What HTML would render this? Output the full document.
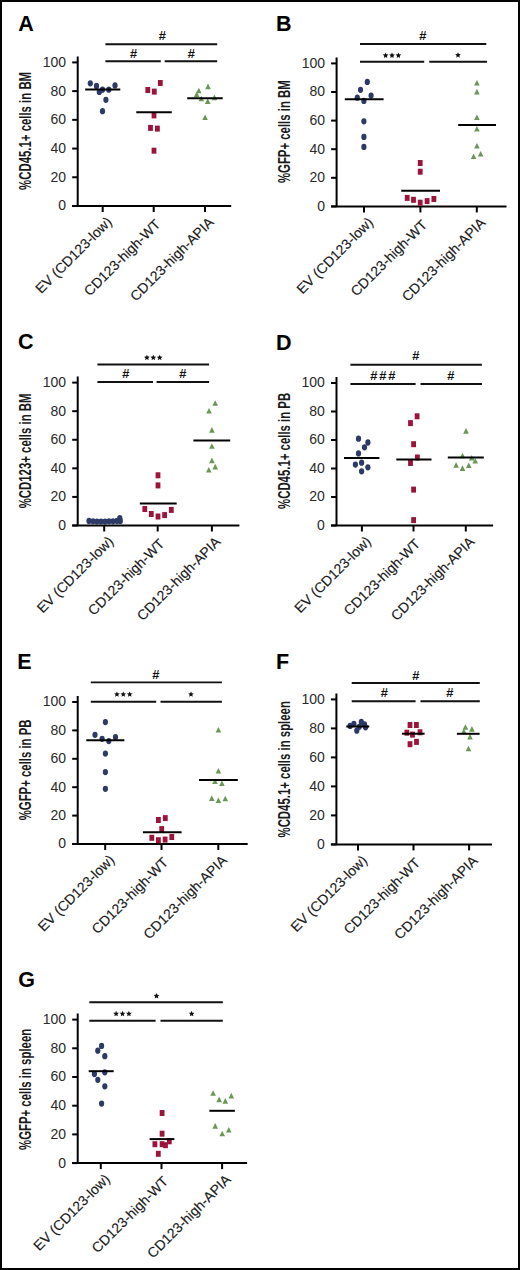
<!DOCTYPE html>
<html><head><meta charset="utf-8"><style>
html,body{margin:0;padding:0;background:#fff}
body{width:520px;height:1270px;overflow:hidden;position:relative}
.frame{position:absolute;left:0;top:0;width:516px;height:1266px;border:2px solid #000;background:#fff}
svg{position:absolute;left:0;top:0}
text{font-family:"Liberation Sans",sans-serif;fill:#1a1a1a}
.L{font-size:21.5px;font-weight:bold;fill:#000}
.t{font-size:14px;fill:#2a2a2a}
.x{font-size:14px;fill:#1a1a1a;stroke:#1a1a1a;stroke-width:0.15px}
.yl{font-size:17.4px;font-weight:bold;fill:#1a1a1a}
.h{font-size:13px;font-weight:bold;font-style:italic;fill:#111;letter-spacing:1.8px}
.ax{stroke:#000;stroke-width:2;fill:none}
.br{stroke:#111;stroke-width:1.9;fill:none}
.mn{stroke:#000;stroke-width:2;fill:none}
</style></head><body><div class="frame"></div>
<svg width="520" height="1270" viewBox="0 0 520 1270">
<g><text x="18.2" y="30.7" class="L">A</text><path d="M77.7 56.4V206 M72.2 206H231.2" class="ax"/><path d="M72.2 206H77.7" class="ax"/><text x="66.1" y="210.4" class="t" text-anchor="end">0</text><path d="M72.2 177.28H77.7" class="ax"/><text x="66.1" y="181.68" class="t" text-anchor="end">20</text><path d="M72.2 148.56H77.7" class="ax"/><text x="66.1" y="152.96" class="t" text-anchor="end">40</text><path d="M72.2 119.84H77.7" class="ax"/><text x="66.1" y="124.24" class="t" text-anchor="end">60</text><path d="M72.2 91.12H77.7" class="ax"/><text x="66.1" y="95.52" class="t" text-anchor="end">80</text><path d="M72.2 62.4H77.7" class="ax"/><text x="66.1" y="66.8" class="t" text-anchor="end">100</text><path d="M102.7 206V212" class="ax"/><text x="112.7" y="222.8" class="x" text-anchor="end" transform="rotate(-45 112.7 222.8)">EV (CD123-low)</text><path d="M153.7 206V212" class="ax"/><text x="160.3" y="222.8" class="x" text-anchor="end" transform="rotate(-45 163.7 222.8)">CD123-high-WT</text><path d="M205 206V212" class="ax"/><text x="214.4" y="222.8" class="x" text-anchor="end" transform="rotate(-45 215 222.8)">CD123-high-APIA</text><text class="yl" text-anchor="middle" transform="translate(30.8 130.9) rotate(-90) scale(0.655 1)">&#37;CD45.1+ cells in BM</text><path d="M105.4 44.2H217.2" class="br"/><text x="162.9" y="40.3" class="h" text-anchor="middle">#</text><path d="M105.4 61.3H160.8" class="br"/><text x="134.2" y="58" class="h" text-anchor="middle">#</text><path d="M164.7 61.3H217.2" class="br"/><text x="192" y="58" class="h" text-anchor="middle">#</text><ellipse cx="90.3" cy="83.3" rx="2.6" ry="3.15" fill="#2d3a66"/><ellipse cx="96.5" cy="85.9" rx="2.6" ry="3.15" fill="#2d3a66"/><ellipse cx="99.3" cy="91.9" rx="2.6" ry="3.15" fill="#2d3a66"/><ellipse cx="102.5" cy="89.7" rx="2.6" ry="3.15" fill="#2d3a66"/><ellipse cx="108.8" cy="89.7" rx="2.6" ry="3.15" fill="#2d3a66"/><ellipse cx="115" cy="85.4" rx="2.6" ry="3.15" fill="#2d3a66"/><ellipse cx="105.9" cy="99.8" rx="2.6" ry="3.15" fill="#2d3a66"/><ellipse cx="102.5" cy="111.2" rx="2.6" ry="3.15" fill="#2d3a66"/><rect x="145.4" y="87" width="4.8" height="6" fill="#9c1439"/><rect x="151.9" y="88.6" width="4.8" height="6" fill="#9c1439"/><rect x="157.9" y="80" width="4.8" height="6" fill="#9c1439"/><rect x="151.6" y="112.4" width="4.8" height="6" fill="#9c1439"/><rect x="148.1" y="124.9" width="4.8" height="6" fill="#9c1439"/><rect x="155" y="125.6" width="4.8" height="6" fill="#9c1439"/><rect x="151.6" y="147.7" width="4.8" height="6" fill="#9c1439"/><path d="M198.8 87.7l2.8 5.6h-5.6z" fill="#6a9656"/><path d="M208 83.6l2.8 5.6h-5.6z" fill="#6a9656"/><path d="M196.7 91.4l2.8 5.6h-5.6z" fill="#6a9656"/><path d="M201.3 95.7l2.8 5.6h-5.6z" fill="#6a9656"/><path d="M207.7 98.3l2.8 5.6h-5.6z" fill="#6a9656"/><path d="M214.4 94.6l2.8 5.6h-5.6z" fill="#6a9656"/><path d="M205.1 114.4l2.8 5.6h-5.6z" fill="#6a9656"/><path d="M85.2 89.5H120.3" class="mn"/><path d="M136.3 112.2H171.8" class="mn"/><path d="M187.2 98.3H222.7" class="mn"/></g>
<g><text x="276.1" y="30.7" class="L">B</text><path d="M336.6 57.4V206.4 M331.1 206.4H506.5" class="ax"/><path d="M331.1 206.4H336.6" class="ax"/><text x="325" y="210.8" class="t" text-anchor="end">0</text><path d="M331.1 177.8H336.6" class="ax"/><text x="325" y="182.2" class="t" text-anchor="end">20</text><path d="M331.1 149.2H336.6" class="ax"/><text x="325" y="153.6" class="t" text-anchor="end">40</text><path d="M331.1 120.6H336.6" class="ax"/><text x="325" y="125" class="t" text-anchor="end">60</text><path d="M331.1 92H336.6" class="ax"/><text x="325" y="96.4" class="t" text-anchor="end">80</text><path d="M331.1 63.4H336.6" class="ax"/><text x="325" y="67.8" class="t" text-anchor="end">100</text><path d="M364 206.4V212.4" class="ax"/><text x="374" y="223.2" class="x" text-anchor="end" transform="rotate(-45 374 223.2)">EV (CD123-low)</text><path d="M420.4 206.4V212.4" class="ax"/><text x="427" y="223.2" class="x" text-anchor="end" transform="rotate(-45 430.4 223.2)">CD123-high-WT</text><path d="M476.8 206.4V212.4" class="ax"/><text x="486.2" y="223.2" class="x" text-anchor="end" transform="rotate(-45 486.8 223.2)">CD123-high-APIA</text><text class="yl" text-anchor="middle" transform="translate(289.8 131.7) rotate(-90) scale(0.655 1)">&#37;GFP+ cells in BM</text><path d="M360 44H486.3" class="br"/><text x="423.4" y="40" class="h" text-anchor="middle">#</text><path d="M360 61.8H424.2" class="br"/><polygon points="385.6,52.5 386.42,54.37 388.45,54.57 386.93,55.93 387.36,57.93 385.6,56.9 383.84,57.93 384.27,55.93 382.75,54.57 384.78,54.37" fill="#111"/><polygon points="392,52.5 392.82,54.37 394.85,54.57 393.33,55.93 393.76,57.93 392,56.9 390.24,57.93 390.67,55.93 389.15,54.57 391.18,54.37" fill="#111"/><polygon points="398.4,52.5 399.22,54.37 401.25,54.57 399.73,55.93 400.16,57.93 398.4,56.9 396.64,57.93 397.07,55.93 395.55,54.57 397.58,54.37" fill="#111"/><path d="M429.3 61.8H487" class="br"/><polygon points="458,52.2 458.82,54.07 460.85,54.27 459.33,55.63 459.76,57.63 458,56.6 456.24,57.63 456.67,55.63 455.15,54.27 457.18,54.07" fill="#111"/><ellipse cx="367.3" cy="81.9" rx="2.6" ry="3.15" fill="#2d3a66"/><ellipse cx="360.5" cy="89.8" rx="2.6" ry="3.15" fill="#2d3a66"/><ellipse cx="371.1" cy="95.6" rx="2.6" ry="3.15" fill="#2d3a66"/><ellipse cx="357.3" cy="97.7" rx="2.6" ry="3.15" fill="#2d3a66"/><ellipse cx="363.9" cy="100.9" rx="2.6" ry="3.15" fill="#2d3a66"/><ellipse cx="363.9" cy="121.3" rx="2.6" ry="3.15" fill="#2d3a66"/><ellipse cx="363.9" cy="136.9" rx="2.6" ry="3.15" fill="#2d3a66"/><ellipse cx="363.9" cy="146.9" rx="2.6" ry="3.15" fill="#2d3a66"/><rect x="417.8" y="160" width="4.8" height="6" fill="#9c1439"/><rect x="417.8" y="168.7" width="4.8" height="6" fill="#9c1439"/><rect x="404.8" y="194.9" width="4.8" height="6" fill="#9c1439"/><rect x="411.1" y="196.8" width="4.8" height="6" fill="#9c1439"/><rect x="417.8" y="199.7" width="4.8" height="6" fill="#9c1439"/><rect x="424.7" y="198.1" width="4.8" height="6" fill="#9c1439"/><rect x="431.5" y="196" width="4.8" height="6" fill="#9c1439"/><path d="M476.9 79.9l2.8 5.6h-5.6z" fill="#6a9656"/><path d="M476.9 88.8l2.8 5.6h-5.6z" fill="#6a9656"/><path d="M476.9 114.5l2.8 5.6h-5.6z" fill="#6a9656"/><path d="M476.9 126l2.8 5.6h-5.6z" fill="#6a9656"/><path d="M476.9 142.9l2.8 5.6h-5.6z" fill="#6a9656"/><path d="M480.6 151l2.8 5.6h-5.6z" fill="#6a9656"/><path d="M473.6 153.4l2.8 5.6h-5.6z" fill="#6a9656"/><path d="M344.8 99.2H383.6" class="mn"/><path d="M401.3 190.7H440" class="mn"/><path d="M458.2 125H496" class="mn"/></g>
<g><text x="17.9" y="349.2" class="L">C</text><path d="M77.7 376.6V525.5 M72.2 525.5H239.4" class="ax"/><path d="M72.2 525.5H77.7" class="ax"/><text x="66.1" y="529.9" class="t" text-anchor="end">0</text><path d="M72.2 496.92H77.7" class="ax"/><text x="66.1" y="501.32" class="t" text-anchor="end">20</text><path d="M72.2 468.34H77.7" class="ax"/><text x="66.1" y="472.74" class="t" text-anchor="end">40</text><path d="M72.2 439.76H77.7" class="ax"/><text x="66.1" y="444.16" class="t" text-anchor="end">60</text><path d="M72.2 411.18H77.7" class="ax"/><text x="66.1" y="415.58" class="t" text-anchor="end">80</text><path d="M72.2 382.6H77.7" class="ax"/><text x="66.1" y="387" class="t" text-anchor="end">100</text><path d="M104.2 525.5V531.5" class="ax"/><text x="114.2" y="542.3" class="x" text-anchor="end" transform="rotate(-45 114.2 542.3)">EV (CD123-low)</text><path d="M157.7 525.5V531.5" class="ax"/><text x="164.3" y="542.3" class="x" text-anchor="end" transform="rotate(-45 167.7 542.3)">CD123-high-WT</text><path d="M211.9 525.5V531.5" class="ax"/><text x="221.3" y="542.3" class="x" text-anchor="end" transform="rotate(-45 221.9 542.3)">CD123-high-APIA</text><text class="yl" text-anchor="middle" transform="translate(30.8 450.9) rotate(-90) scale(0.655 1)">&#37;CD123+ cells in BM</text><path d="M97.4 364.5H209.1" class="br"/><polygon points="146.9,354.7 147.72,356.57 149.75,356.77 148.23,358.13 148.66,360.13 146.9,359.1 145.14,360.13 145.57,358.13 144.05,356.77 146.08,356.57" fill="#111"/><polygon points="153.3,354.7 154.12,356.57 156.15,356.77 154.63,358.13 155.06,360.13 153.3,359.1 151.54,360.13 151.97,358.13 150.45,356.77 152.48,356.57" fill="#111"/><polygon points="159.7,354.7 160.52,356.57 162.55,356.77 161.03,358.13 161.46,360.13 159.7,359.1 157.94,360.13 158.37,358.13 156.85,356.77 158.88,356.57" fill="#111"/><path d="M97.4 382H153" class="br"/><text x="126.6" y="377.8" class="h" text-anchor="middle">#</text><path d="M156.6 382H209.1" class="br"/><text x="183.4" y="377.8" class="h" text-anchor="middle">#</text><path d="M87.5 521.3H121.5" class="mn"/><path d="M139.8 503.5H176.7" class="mn"/><path d="M193.4 440.5H230.2" class="mn"/><ellipse cx="89" cy="521" rx="2.6" ry="3.15" fill="#2d3a66"/><ellipse cx="93" cy="521.3" rx="2.6" ry="3.15" fill="#2d3a66"/><ellipse cx="97" cy="521.6" rx="2.6" ry="3.15" fill="#2d3a66"/><ellipse cx="101" cy="521.6" rx="2.6" ry="3.15" fill="#2d3a66"/><ellipse cx="105" cy="521.6" rx="2.6" ry="3.15" fill="#2d3a66"/><ellipse cx="109" cy="521.3" rx="2.6" ry="3.15" fill="#2d3a66"/><ellipse cx="113" cy="521.3" rx="2.6" ry="3.15" fill="#2d3a66"/><ellipse cx="117" cy="521" rx="2.6" ry="3.15" fill="#2d3a66"/><ellipse cx="119.8" cy="518.2" rx="2.6" ry="3.15" fill="#2d3a66"/><ellipse cx="120.3" cy="521" rx="2.6" ry="3.15" fill="#2d3a66"/><rect x="155.6" y="472.3" width="4.8" height="6" fill="#9c1439"/><rect x="155.6" y="482.4" width="4.8" height="6" fill="#9c1439"/><rect x="142.4" y="506" width="4.8" height="6" fill="#9c1439"/><rect x="148.9" y="511" width="4.8" height="6" fill="#9c1439"/><rect x="155.6" y="513.5" width="4.8" height="6" fill="#9c1439"/><rect x="162.2" y="512.1" width="4.8" height="6" fill="#9c1439"/><rect x="168.9" y="506.9" width="4.8" height="6" fill="#9c1439"/><path d="M215.2 400.2l2.8 5.6h-5.6z" fill="#6a9656"/><path d="M209 407.9l2.8 5.6h-5.6z" fill="#6a9656"/><path d="M211.9 427.1l2.8 5.6h-5.6z" fill="#6a9656"/><path d="M211.9 443.2l2.8 5.6h-5.6z" fill="#6a9656"/><path d="M211.9 457.6l2.8 5.6h-5.6z" fill="#6a9656"/><path d="M215.2 463.8l2.8 5.6h-5.6z" fill="#6a9656"/><path d="M208.8 466.9l2.8 5.6h-5.6z" fill="#6a9656"/></g>
<g><text x="276.1" y="349.8" class="L">D</text><path d="M336.5 377V525.5 M331 525.5H493.1" class="ax"/><path d="M331 525.5H336.5" class="ax"/><text x="324.9" y="529.9" class="t" text-anchor="end">0</text><path d="M331 497H336.5" class="ax"/><text x="324.9" y="501.4" class="t" text-anchor="end">20</text><path d="M331 468.5H336.5" class="ax"/><text x="324.9" y="472.9" class="t" text-anchor="end">40</text><path d="M331 440H336.5" class="ax"/><text x="324.9" y="444.4" class="t" text-anchor="end">60</text><path d="M331 411.5H336.5" class="ax"/><text x="324.9" y="415.9" class="t" text-anchor="end">80</text><path d="M331 383H336.5" class="ax"/><text x="324.9" y="387.4" class="t" text-anchor="end">100</text><path d="M361.9 525.5V531.5" class="ax"/><text x="371.9" y="542.3" class="x" text-anchor="end" transform="rotate(-45 371.9 542.3)">EV (CD123-low)</text><path d="M413.5 525.5V531.5" class="ax"/><text x="420.1" y="542.3" class="x" text-anchor="end" transform="rotate(-45 423.5 542.3)">CD123-high-WT</text><path d="M465.8 525.5V531.5" class="ax"/><text x="475.2" y="542.3" class="x" text-anchor="end" transform="rotate(-45 475.8 542.3)">CD123-high-APIA</text><text class="yl" text-anchor="middle" transform="translate(289.8 450.9) rotate(-90) scale(0.655 1)">&#37;CD45.1+ cells in PB</text><path d="M350.4 364.7H481.9" class="br"/><text x="416.5" y="360.3" class="h" text-anchor="middle">#</text><path d="M350.4 384H415.6" class="br"/><text x="383.6" y="379.5" class="h" text-anchor="middle">###</text><path d="M420.5 384H481.9" class="br"/><text x="451.6" y="379.7" class="h" text-anchor="middle">#</text><ellipse cx="358.5" cy="438.7" rx="2.6" ry="3.15" fill="#2d3a66"/><ellipse cx="367.9" cy="442.5" rx="2.6" ry="3.15" fill="#2d3a66"/><ellipse cx="364.5" cy="447.3" rx="2.6" ry="3.15" fill="#2d3a66"/><ellipse cx="358.5" cy="453.4" rx="2.6" ry="3.15" fill="#2d3a66"/><ellipse cx="361.6" cy="462.7" rx="2.6" ry="3.15" fill="#2d3a66"/><ellipse cx="355.4" cy="464.6" rx="2.6" ry="3.15" fill="#2d3a66"/><ellipse cx="367.9" cy="467.3" rx="2.6" ry="3.15" fill="#2d3a66"/><ellipse cx="361.6" cy="471.3" rx="2.6" ry="3.15" fill="#2d3a66"/><rect x="414.7" y="413.3" width="4.8" height="6" fill="#9c1439"/><rect x="408.1" y="420.1" width="4.8" height="6" fill="#9c1439"/><rect x="411.2" y="441.2" width="4.8" height="6" fill="#9c1439"/><rect x="415" y="454.5" width="4.8" height="6" fill="#9c1439"/><rect x="408.1" y="460" width="4.8" height="6" fill="#9c1439"/><rect x="411.2" y="486.6" width="4.8" height="6" fill="#9c1439"/><rect x="411.2" y="517.1" width="4.8" height="6" fill="#9c1439"/><path d="M466 428.1l2.8 5.6h-5.6z" fill="#6a9656"/><path d="M462.5 452.7l2.8 5.6h-5.6z" fill="#6a9656"/><path d="M456.1 462.2l2.8 5.6h-5.6z" fill="#6a9656"/><path d="M462.5 465.3l2.8 5.6h-5.6z" fill="#6a9656"/><path d="M468.8 462.5l2.8 5.6h-5.6z" fill="#6a9656"/><path d="M475.2 457.9l2.8 5.6h-5.6z" fill="#6a9656"/><path d="M471.7 454.9l2.8 5.6h-5.6z" fill="#6a9656"/><path d="M344 457.9H379.4" class="mn"/><path d="M396.3 459.6H431.5" class="mn"/><path d="M447.8 457.5H483.8" class="mn"/></g>
<g><text x="17.2" y="668.7" class="L">E</text><path d="M77.7 696V844 M72.2 844H247.7" class="ax"/><path d="M72.2 844H77.7" class="ax"/><text x="66.1" y="848.4" class="t" text-anchor="end">0</text><path d="M72.2 815.6H77.7" class="ax"/><text x="66.1" y="820" class="t" text-anchor="end">20</text><path d="M72.2 787.2H77.7" class="ax"/><text x="66.1" y="791.6" class="t" text-anchor="end">40</text><path d="M72.2 758.8H77.7" class="ax"/><text x="66.1" y="763.2" class="t" text-anchor="end">60</text><path d="M72.2 730.4H77.7" class="ax"/><text x="66.1" y="734.8" class="t" text-anchor="end">80</text><path d="M72.2 702H77.7" class="ax"/><text x="66.1" y="706.4" class="t" text-anchor="end">100</text><path d="M105.2 844V850" class="ax"/><text x="115.2" y="860.8" class="x" text-anchor="end" transform="rotate(-45 115.2 860.8)">EV (CD123-low)</text><path d="M161.5 844V850" class="ax"/><text x="168.1" y="860.8" class="x" text-anchor="end" transform="rotate(-45 171.5 860.8)">CD123-high-WT</text><path d="M218.3 844V850" class="ax"/><text x="227.7" y="860.8" class="x" text-anchor="end" transform="rotate(-45 228.3 860.8)">CD123-high-APIA</text><text class="yl" text-anchor="middle" transform="translate(30.8 769.9) rotate(-90) scale(0.655 1)">&#37;GFP+ cells in PB</text><path d="M90.8 682.4H221.9" class="br"/><text x="156.5" y="679" class="h" text-anchor="middle">#</text><path d="M90.8 701.8H156.2" class="br"/><polygon points="116.9,691.4 117.72,693.27 119.75,693.47 118.23,694.83 118.66,696.83 116.9,695.8 115.14,696.83 115.57,694.83 114.05,693.47 116.08,693.27" fill="#111"/><polygon points="123.3,691.4 124.12,693.27 126.15,693.47 124.63,694.83 125.06,696.83 123.3,695.8 121.54,696.83 121.97,694.83 120.45,693.47 122.48,693.27" fill="#111"/><polygon points="129.7,691.4 130.52,693.27 132.55,693.47 131.03,694.83 131.46,696.83 129.7,695.8 127.94,696.83 128.37,694.83 126.85,693.47 128.88,693.27" fill="#111"/><path d="M160.5 701.8H221.9" class="br"/><polygon points="191,691.4 191.82,693.27 193.85,693.47 192.33,694.83 192.76,696.83 191,695.8 189.24,696.83 189.67,694.83 188.15,693.47 190.18,693.27" fill="#111"/><ellipse cx="105.4" cy="722.1" rx="2.6" ry="3.15" fill="#2d3a66"/><ellipse cx="95" cy="734.8" rx="2.6" ry="3.15" fill="#2d3a66"/><ellipse cx="102.1" cy="738.8" rx="2.6" ry="3.15" fill="#2d3a66"/><ellipse cx="108.8" cy="741.1" rx="2.6" ry="3.15" fill="#2d3a66"/><ellipse cx="115.5" cy="737.1" rx="2.6" ry="3.15" fill="#2d3a66"/><ellipse cx="105.4" cy="753.6" rx="2.6" ry="3.15" fill="#2d3a66"/><ellipse cx="105.4" cy="772.1" rx="2.6" ry="3.15" fill="#2d3a66"/><ellipse cx="105.4" cy="788.8" rx="2.6" ry="3.15" fill="#2d3a66"/><rect x="156" y="817" width="4.8" height="6" fill="#9c1439"/><rect x="162.9" y="815.1" width="4.8" height="6" fill="#9c1439"/><rect x="159.3" y="826.1" width="4.8" height="6" fill="#9c1439"/><rect x="149.4" y="834.8" width="4.8" height="6" fill="#9c1439"/><rect x="156" y="837.2" width="4.8" height="6" fill="#9c1439"/><rect x="162.7" y="836.6" width="4.8" height="6" fill="#9c1439"/><rect x="169.4" y="834" width="4.8" height="6" fill="#9c1439"/><path d="M218.4 727l2.8 5.6h-5.6z" fill="#6a9656"/><path d="M218.4 767.9l2.8 5.6h-5.6z" fill="#6a9656"/><path d="M215 778.4l2.8 5.6h-5.6z" fill="#6a9656"/><path d="M221.9 780.4l2.8 5.6h-5.6z" fill="#6a9656"/><path d="M211.8 795.3l2.8 5.6h-5.6z" fill="#6a9656"/><path d="M218.4 797.5l2.8 5.6h-5.6z" fill="#6a9656"/><path d="M225.3 795.7l2.8 5.6h-5.6z" fill="#6a9656"/><path d="M86.3 740.2H124.4" class="mn"/><path d="M142.9 832.2H181.6" class="mn"/><path d="M199 779.9H237.8" class="mn"/></g>
<g><text x="275.9" y="668.7" class="L">F</text><path d="M336.4 693.4V844.4 M330.9 844.4H492" class="ax"/><path d="M330.9 844.4H336.4" class="ax"/><text x="324.8" y="848.8" class="t" text-anchor="end">0</text><path d="M330.9 815.4H336.4" class="ax"/><text x="324.8" y="819.8" class="t" text-anchor="end">20</text><path d="M330.9 786.4H336.4" class="ax"/><text x="324.8" y="790.8" class="t" text-anchor="end">40</text><path d="M330.9 757.4H336.4" class="ax"/><text x="324.8" y="761.8" class="t" text-anchor="end">60</text><path d="M330.9 728.4H336.4" class="ax"/><text x="324.8" y="732.8" class="t" text-anchor="end">80</text><path d="M330.9 699.4H336.4" class="ax"/><text x="324.8" y="703.8" class="t" text-anchor="end">100</text><path d="M358 844.4V850.4" class="ax"/><text x="368" y="861.2" class="x" text-anchor="end" transform="rotate(-45 368 861.2)">EV (CD123-low)</text><path d="M413.5 844.4V850.4" class="ax"/><text x="420.1" y="861.2" class="x" text-anchor="end" transform="rotate(-45 423.5 861.2)">CD123-high-WT</text><path d="M469.1 844.4V850.4" class="ax"/><text x="478.5" y="861.2" class="x" text-anchor="end" transform="rotate(-45 479.1 861.2)">CD123-high-APIA</text><text class="yl" text-anchor="middle" transform="translate(289.8 769.3) rotate(-90) scale(0.655 1)">&#37;CD45.1+ cells in spleen</text><path d="M351.7 683H479.8" class="br"/><text x="416.5" y="679.5" class="h" text-anchor="middle">#</text><path d="M351.7 701.2H415.6" class="br"/><text x="385" y="697.3" class="h" text-anchor="middle">#</text><path d="M420.5 701.2H479.8" class="br"/><text x="450.5" y="697.3" class="h" text-anchor="middle">#</text><ellipse cx="350.1" cy="725.9" rx="2.6" ry="3.15" fill="#2d3a66"/><ellipse cx="353.9" cy="723.9" rx="2.6" ry="3.15" fill="#2d3a66"/><ellipse cx="356.8" cy="730.7" rx="2.6" ry="3.15" fill="#2d3a66"/><ellipse cx="359.2" cy="726.8" rx="2.6" ry="3.15" fill="#2d3a66"/><ellipse cx="361.3" cy="722" rx="2.6" ry="3.15" fill="#2d3a66"/><ellipse cx="364.5" cy="724.4" rx="2.6" ry="3.15" fill="#2d3a66"/><ellipse cx="365.5" cy="727.3" rx="2.6" ry="3.15" fill="#2d3a66"/><rect x="407.6" y="722" width="4.8" height="6" fill="#9c1439"/><rect x="414" y="722" width="4.8" height="6" fill="#9c1439"/><rect x="404.5" y="729.7" width="4.8" height="6" fill="#9c1439"/><rect x="410.1" y="731.6" width="4.8" height="6" fill="#9c1439"/><rect x="417.6" y="729.3" width="4.8" height="6" fill="#9c1439"/><rect x="407.6" y="741.2" width="4.8" height="6" fill="#9c1439"/><rect x="414.1" y="738.9" width="4.8" height="6" fill="#9c1439"/><path d="M465.4 724.2l2.8 5.6h-5.6z" fill="#6a9656"/><path d="M471.9 726.1l2.8 5.6h-5.6z" fill="#6a9656"/><path d="M463.8 728.4l2.8 5.6h-5.6z" fill="#6a9656"/><path d="M470 733.8l2.8 5.6h-5.6z" fill="#6a9656"/><path d="M468.5 745.7l2.8 5.6h-5.6z" fill="#6a9656"/><path d="M346.3 726.5H369.3" class="mn"/><path d="M401.9 733.7H424.6" class="mn"/><path d="M456.9 733.8H479.6" class="mn"/></g>
<g><text x="18.2" y="987.2" class="L">G</text><path d="M77.7 1013.6V1163.1 M72.2 1163.1H247.1" class="ax"/><path d="M72.2 1163.1H77.7" class="ax"/><text x="66.1" y="1167.5" class="t" text-anchor="end">0</text><path d="M72.2 1134.4H77.7" class="ax"/><text x="66.1" y="1138.8" class="t" text-anchor="end">20</text><path d="M72.2 1105.7H77.7" class="ax"/><text x="66.1" y="1110.1" class="t" text-anchor="end">40</text><path d="M72.2 1077H77.7" class="ax"/><text x="66.1" y="1081.4" class="t" text-anchor="end">60</text><path d="M72.2 1048.3H77.7" class="ax"/><text x="66.1" y="1052.7" class="t" text-anchor="end">80</text><path d="M72.2 1019.6H77.7" class="ax"/><text x="66.1" y="1024" class="t" text-anchor="end">100</text><path d="M100.8 1163.1V1169.1" class="ax"/><text x="110.8" y="1179.9" class="x" text-anchor="end" transform="rotate(-45 110.8 1179.9)">EV (CD123-low)</text><path d="M161.5 1163.1V1169.1" class="ax"/><text x="168.1" y="1179.9" class="x" text-anchor="end" transform="rotate(-45 171.5 1179.9)">CD123-high-WT</text><path d="M222.1 1163.1V1169.1" class="ax"/><text x="231.5" y="1179.9" class="x" text-anchor="end" transform="rotate(-45 232.1 1179.9)">CD123-high-APIA</text><text class="yl" text-anchor="middle" transform="translate(30.8 1089.4) rotate(-90) scale(0.655 1)">&#37;GFP+ cells in spleen</text><path d="M89.3 1002.3H222.8" class="br"/><polygon points="156.5,993 157.32,994.87 159.35,995.07 157.83,996.43 158.26,998.43 156.5,997.4 154.74,998.43 155.17,996.43 153.65,995.07 155.68,994.87" fill="#111"/><path d="M89.3 1020.8H155.6" class="br"/><polygon points="116.1,1010.8 116.92,1012.67 118.95,1012.87 117.43,1014.23 117.86,1016.23 116.1,1015.2 114.34,1016.23 114.77,1014.23 113.25,1012.87 115.28,1012.67" fill="#111"/><polygon points="122.5,1010.8 123.32,1012.67 125.35,1012.87 123.83,1014.23 124.26,1016.23 122.5,1015.2 120.74,1016.23 121.17,1014.23 119.65,1012.87 121.68,1012.67" fill="#111"/><polygon points="128.9,1010.8 129.72,1012.67 131.75,1012.87 130.23,1014.23 130.66,1016.23 128.9,1015.2 127.14,1016.23 127.57,1014.23 126.05,1012.87 128.08,1012.67" fill="#111"/><path d="M160.5 1020.8H222.8" class="br"/><polygon points="191.6,1010.8 192.42,1012.67 194.45,1012.87 192.93,1014.23 193.36,1016.23 191.6,1015.2 189.84,1016.23 190.27,1014.23 188.75,1012.87 190.78,1012.67" fill="#111"/><ellipse cx="101.6" cy="1045.9" rx="2.6" ry="3.15" fill="#2d3a66"/><ellipse cx="97.8" cy="1050.7" rx="2.6" ry="3.15" fill="#2d3a66"/><ellipse cx="104.8" cy="1056.2" rx="2.6" ry="3.15" fill="#2d3a66"/><ellipse cx="104.8" cy="1072.3" rx="2.6" ry="3.15" fill="#2d3a66"/><ellipse cx="94.4" cy="1074" rx="2.6" ry="3.15" fill="#2d3a66"/><ellipse cx="97.8" cy="1079.8" rx="2.6" ry="3.15" fill="#2d3a66"/><ellipse cx="104.8" cy="1086.3" rx="2.6" ry="3.15" fill="#2d3a66"/><ellipse cx="101.6" cy="1103.6" rx="2.6" ry="3.15" fill="#2d3a66"/><rect x="159.7" y="1110" width="4.8" height="6" fill="#9c1439"/><rect x="159.7" y="1130.7" width="4.8" height="6" fill="#9c1439"/><rect x="152.5" y="1141.2" width="4.8" height="6" fill="#9c1439"/><rect x="159.7" y="1141.2" width="4.8" height="6" fill="#9c1439"/><rect x="163.1" y="1142.2" width="4.8" height="6" fill="#9c1439"/><rect x="166.9" y="1138.3" width="4.8" height="6" fill="#9c1439"/><rect x="155.9" y="1150.8" width="4.8" height="6" fill="#9c1439"/><path d="M213.1 1090.2l2.8 5.6h-5.6z" fill="#6a9656"/><path d="M219.2 1096.6l2.8 5.6h-5.6z" fill="#6a9656"/><path d="M225.3 1098.1l2.8 5.6h-5.6z" fill="#6a9656"/><path d="M231.3 1092.8l2.8 5.6h-5.6z" fill="#6a9656"/><path d="M215.2 1123.1l2.8 5.6h-5.6z" fill="#6a9656"/><path d="M222.2 1130.7l2.8 5.6h-5.6z" fill="#6a9656"/><path d="M228.8 1126.9l2.8 5.6h-5.6z" fill="#6a9656"/><path d="M88.7 1071.2H113.7" class="mn"/><path d="M149.6 1139.1H174.4" class="mn"/><path d="M209.4 1110.8H234.9" class="mn"/></g>
</svg></body></html>
